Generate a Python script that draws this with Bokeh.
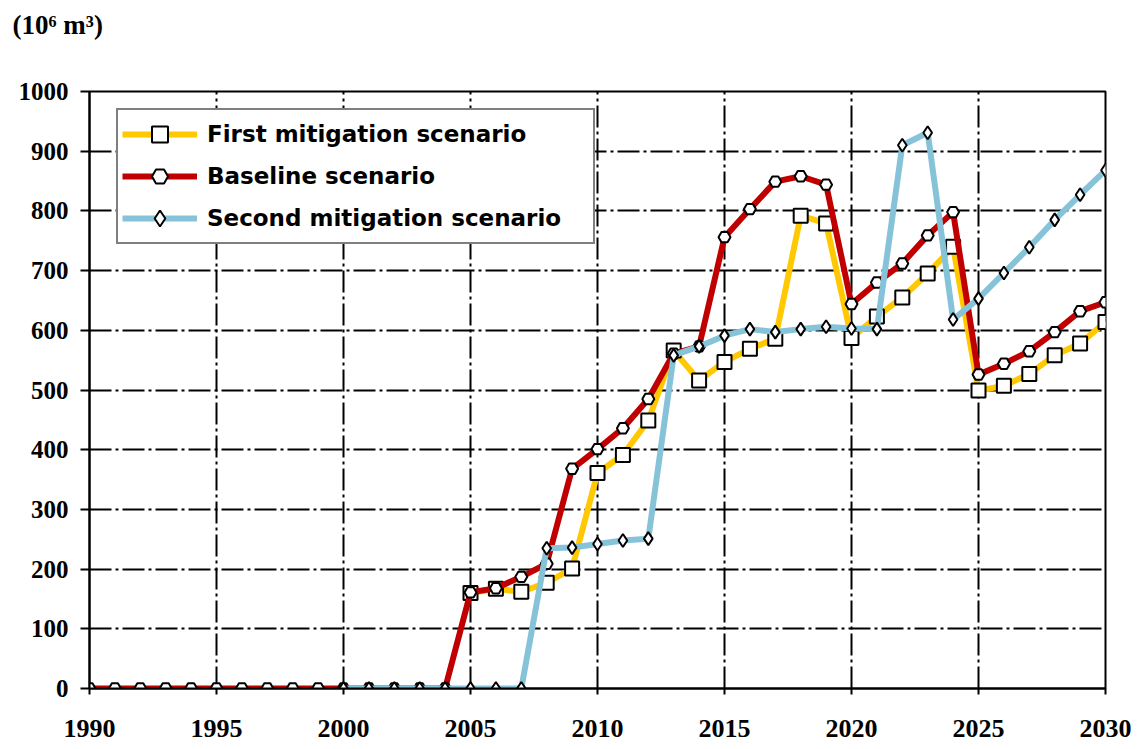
from bokeh.plotting import figure
from bokeh.models import Range1d, FixedTicker, Legend, LegendItem
from bokeh.embed import file_html
from bokeh.resources import INLINE

# ---- data ----
years_baseline = [1990, 1991, 1992, 1993, 1994, 1995, 1996, 1997, 1998, 1999,
                  2000, 2001, 2002, 2003, 2004, 2005, 2006, 2007, 2008, 2009,
                  2010, 2011, 2012, 2013, 2014, 2015, 2016, 2017, 2018, 2019,
                  2020, 2021, 2022, 2023, 2024, 2025, 2026, 2027, 2028, 2029, 2030]
baseline = [0, 0, 0, 0, 0, 0, 0, 0, 0, 0,
            0, 0, 0, 0, 0, 161, 168, 187, 209, 368,
            401, 436, 485, 561, 573, 756, 803, 849, 858, 844,
            644, 680, 712, 759, 798, 526, 544, 565, 597, 632, 647]

years_first = [2005, 2006, 2007, 2008, 2009, 2010, 2011, 2012, 2013, 2014,
               2015, 2016, 2017, 2018, 2019, 2020, 2021, 2022, 2023, 2024,
               2025, 2026, 2027, 2028, 2029, 2030]
first = [160, 167, 162, 177, 201, 361, 391, 449, 566, 516,
         547, 569, 586, 792, 779, 587, 623, 655, 695, 740,
         499, 507, 527, 558, 578, 614]

years_second = [2000, 2001, 2002, 2003, 2004, 2005, 2006, 2007, 2008, 2009,
                2010, 2011, 2012, 2013, 2014, 2015, 2016, 2017, 2018, 2019,
                2020, 2021, 2022, 2023, 2024, 2025, 2026, 2027, 2028, 2029, 2030]
second = [0, 0, 0, 0, 0, 0, 0, 0, 235, 236,
          242, 248, 251, 558, 573, 591, 602, 597, 602, 606,
          603, 602, 910, 931, 618, 653, 696, 739, 785, 827, 868]

x_ticks = [1990, 1995, 2000, 2005, 2010, 2015, 2020, 2025, 2030]
y_ticks = [0, 100, 200, 300, 400, 500, 600, 700, 800, 900, 1000]

labels = ["First mitigation scenario", "Baseline scenario", "Second mitigation scenario"]
unit_label = "(10\u2076 m\u00b3)"

# ---- figure ----
W, H = 1141, 749
L, R, T, B = 89, 36, 91, 61
p = figure(width=W, height=H, output_backend="svg", toolbar_location=None,
           x_range=Range1d(1990, 2030), y_range=Range1d(0, 1000),
           min_border_left=L, min_border_right=R, min_border_top=T, min_border_bottom=B)

# unit label as a two-line title (blank second line lifts it above the frame)
p.title.text = unit_label + "\n "
p.title.align = "left"
p.title.vertical_align = "top"
p.title.offset = 12 - L
p.title.standoff = 10
p.title.text_line_height = 1.5
p.title.text_font = "Liberation Serif"
p.title.text_font_style = "bold"
p.title.text_font_size = "27px"
p.title.text_color = "black"

p.outline_line_color = "black"
p.outline_line_width = 2
p.background_fill_color = "white"
p.border_fill_color = "white"

for ax in (p.xaxis[0], p.yaxis[0]):
    ax.axis_line_color = "black"
    ax.axis_line_width = 2
    ax.major_tick_line_color = "black"
    ax.major_tick_line_width = 2
    ax.major_tick_in = 0
    ax.minor_tick_line_color = None
    ax.major_label_text_font = "Liberation Serif"
    ax.major_label_text_font_style = "bold"
    ax.major_label_text_color = "black"

p.xaxis[0].ticker = FixedTicker(ticks=x_ticks)
p.yaxis[0].ticker = FixedTicker(ticks=y_ticks)
p.xaxis[0].major_tick_out = 6
p.yaxis[0].major_tick_out = 9
p.xaxis[0].major_label_standoff = 25
p.yaxis[0].major_label_standoff = 12
p.xaxis[0].major_label_text_font_size = "26px"
p.yaxis[0].major_label_text_font_size = "25px"

for g in (p.xgrid[0], p.ygrid[0]):
    g.grid_line_color = "black"
    g.grid_line_width = 2
    g.grid_line_dash = "22 4 3 4"
p.xgrid[0].ticker = FixedTicker(ticks=x_ticks)
p.ygrid[0].ticker = FixedTicker(ticks=y_ticks)

yellow = "#FFC800"
red = "#C00000"
blue = "#86C3D8"

l1 = p.line(years_first, first, line_color=yellow, line_width=6)
s1 = p.scatter(years_first, first, marker="square", size=14, fill_color="white",
               line_color="black", line_width=2)
l2 = p.line(years_baseline, baseline, line_color=red, line_width=6)
s2 = p.scatter(years_baseline, baseline, marker="hex", size=12, fill_color="white",
               line_color="black", line_width=2)
l3 = p.line(years_second, second, line_color=blue, line_width=6)
s3 = p.scatter(years_second, second, marker="diamond", size=13, fill_color="white",
               line_color="black", line_width=2)

legend = Legend(items=[
    LegendItem(label=labels[0], renderers=[l1, s1]),
    LegendItem(label=labels[1], renderers=[l2, s2]),
    LegendItem(label=labels[2], renderers=[l3, s3]),
])
legend.location = (27, 444)
legend.border_line_color = "black"
legend.border_line_width = 2
legend.background_fill_color = "white"
legend.background_fill_alpha = 1
legend.padding = 4
legend.spacing = 2
legend.margin = 0
legend.glyph_width = 75
legend.glyph_height = 40
legend.label_height = 40
legend.label_width = 382
legend.label_standoff = 10
legend.label_text_font = "DejaVu Sans"
legend.label_text_font_style = "bold"
legend.label_text_font_size = "23px"
legend.label_text_color = "black"
p.add_layout(legend, "center")

open("out.html", "w").write(file_html(p, INLINE))
